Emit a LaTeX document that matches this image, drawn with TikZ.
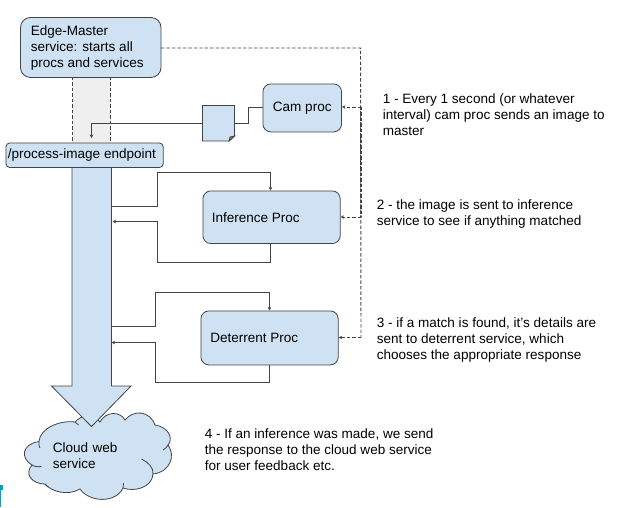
\documentclass[tikz,border=0pt]{standalone}
\usepackage{fontspec}
\setmainfont{Liberation Sans}
\usetikzlibrary{calc,positioning,arrows.meta}
\definecolor{procblue}{HTML}{CFE2F3}
\definecolor{lineGray}{HTML}{434343}
\definecolor{colGray}{HTML}{EFEFEF}
\definecolor{markTeal}{HTML}{00A5BF}
\pgfdeclarelayer{bg}
\pgfsetlayers{bg,main}
\tikzset{
  box/.style={draw=lineGray, fill=procblue, line width=0.6pt, inner sep=0pt},
  link/.style={draw=lineGray, line width=0.6pt, -{Stealth[length=2.6pt,width=2.6pt]}},
  dashlink/.style={link, line width=0.7pt, dash pattern=on 2.6pt off 1.5pt},
  txt/.style={font=\fontsize{10.15pt}{12pt}\selectfont, align=left, text=black, inner sep=0pt, anchor=west},
}
\begin{document}
\begin{tikzpicture}[x=0.75pt,y=-0.75pt]
  \useasboundingbox (0,0) rectangle (627,507);
  % column behind the endpoint
  \begin{pgfonlayer}{bg}
    \fill [colGray] (72,77) rectangle (110.5,143);
    \draw [lineGray, line width=0.6pt, dash pattern=on 2.6pt off 1.5pt] (72,77) -- (72,143);
    \draw [lineGray, line width=0.6pt, dash pattern=on 2.6pt off 1.5pt] (110.5,77) -- (110.5,143);
  \end{pgfonlayer}
  % cloud
  \draw [box] (39,441.5)
    .. controls (40,428) and (60,420) .. (75,422)
    .. controls (82,414) and (94,414) .. (100,422)
    .. controls (106,411) and (120,411) .. (125,420)
    .. controls (134,409) and (150,411) .. (155,425)
    .. controls (168,427) and (174,438) .. (168,445)
    .. controls (176,456) and (170,472) .. (153,474)
    .. controls (152,488) and (134,492) .. (123,488)
    .. controls (116,503) and (90,503) .. (80,489)
    .. controls (68,496) and (52,492) .. (45,484)
    .. controls (32,484) and (24,474) .. (32,465)
    .. controls (20,458) and (22,444) .. (39,441.5) -- cycle;
  \draw [draw=lineGray, line width=0.6pt] (39,441.5) .. controls (38.5,444) and (39,446) .. (40,448);
  \draw [draw=lineGray, line width=0.6pt] (75,422) .. controls (76,423) and (77,424) .. (78.5,425);
  \draw [draw=lineGray, line width=0.6pt] (32,465) .. controls (34,466.5) and (38,467) .. (41.5,466.5);
  \draw [draw=lineGray, line width=0.6pt] (141.5,459) .. controls (148,462) and (154,468) .. (153,474);
  \draw [draw=lineGray, line width=0.6pt] (123,488) .. controls (123.5,486) and (123.5,485) .. (123.5,483);
  \draw [draw=lineGray, line width=0.6pt] (163,450) .. controls (165,449) and (167,447) .. (168,445);
  \draw [draw=lineGray, line width=0.6pt] (45,484) .. controls (46,485.5) and (47,486.5) .. (48.5,487);
  \node [txt, text width=70pt] (cloud) at (52.5,456) {Cloud web\\service};
  % big arrow
  \draw [box] (72,167) -- (111.5,167) -- (111.5,386) -- (131,386) -- (91.5,426.5) -- (51.5,386) -- (72,386) -- cycle;
  % nodes
  \draw [box, rounded corners=7.5pt] (20.5,17.5) rectangle (161,77.5);
  \node [txt] (masterText) at (30.5,48) {Edge-Master\\service: starts all\\procs and services};
  \coordinate (master) at (161,48);
  \node [box, rounded corners=3pt, minimum width=118pt, minimum height=18.5pt, anchor=north west] (endpoint) at (5.5,142.5) {};
  \node [txt] at (7.5,155) {/process-image endpoint};
  \node [box, rounded corners=6pt, minimum width=59pt, minimum height=36pt, anchor=north west, font=\fontsize{10.15pt}{12pt}\selectfont] (cam) at (262.5,83.5) {Cam proc};
  \node [box, rounded corners=6pt, minimum width=103pt, minimum height=39.5pt, anchor=north west] (inference) at (202.5,190.5) {};
  \node [txt] at (211.5,217.5) {Inference Proc};
  \node [box, rounded corners=6pt, minimum width=103pt, minimum height=40.5pt, anchor=north west] (deterrent) at (200.5,310.5) {};
  \node [txt] at (210,338) {Deterrent Proc};
  % image document
  \draw [box] (202.5,105.5) -- (234.5,105.5) -- (234.5,136) -- (229,141) -- (202.5,141) -- cycle;
  \draw [box, fill=procblue!50!lineGray] (234.5,136) -- (230,137) -- (229,141) -- cycle;
  \coordinate (docl) at (202.5,123);
  \coordinate (docr) at (234.5,123);
  \coordinate (tipE) at (91.5,138);
  \coordinate (rail) at (361,107);
  \coordinate (railinf) at (361,217);
  \coordinate (raildet) at (361,337.5);
  % connectors
  \draw [draw=lineGray, line width=0.6pt] (cam.west |- 0,107) -- (248,107) -- (248,123) -- (docr);
  \draw [link] (docl) -- (91.5,123) -- (tipE);
  \draw [dashlink, -] (master) -- (360.5,48) -- (raildet);
  \draw [dashlink, -, line width=1.1pt] (rail) -- (railinf);
  \draw [dashlink] (rail) -- (cam.east |- rail);
  \draw [dashlink] (railinf) -- (inference.east |- railinf);
  \draw [dashlink] (raildet) -- (deterrent.east |- raildet);
  \draw [link] (111.5,206.5) -- (157.5,206.5) -- (157.5,172.5) -- (270.5,172.5) -- (inference.north -| 270.5,0);
  \draw [link] (inference.south -| 270.5,0) -- (270.5,262.5) -- (157.5,262.5) -- (157.5,221.5) -- (112.5,221.5);
  \draw [link] (111.5,326.5) -- (155.5,326.5) -- (155.5,292.5) -- (269.5,292.5) -- (deterrent.north -| 269.5,0);
  \draw [link] (deterrent.south -| 269.5,0) -- (269.5,382) -- (155.5,382) -- (155.5,342.5) -- (111.5,342.5);
  % notes
  \node [txt] (noteA) at (382.5,115) {1 - Every 1 second (or whatever\\interval) cam proc sends an image to\\master};
  \node [txt] (noteB) at (376.5,213.7) {2 - the image is sent to inference\\service to see if anything matched};
  \node [txt] (noteC) at (376.5,340.3) {3 - if a match is found, it's details are\\sent to deterrent service, which\\chooses the appropriate response};
  \node [txt] (noteD) at (204.5,450) {4 - If an inference was made, we send\\the response to the cloud web service\\for user feedback etc.};
  % clipped mark, lower left
  \fill [markTeal] (0,485) -- (3,485) -- (3,490) -- (1,490) -- (1,507) -- (0,507) -- cycle;
\end{tikzpicture}
\end{document}
